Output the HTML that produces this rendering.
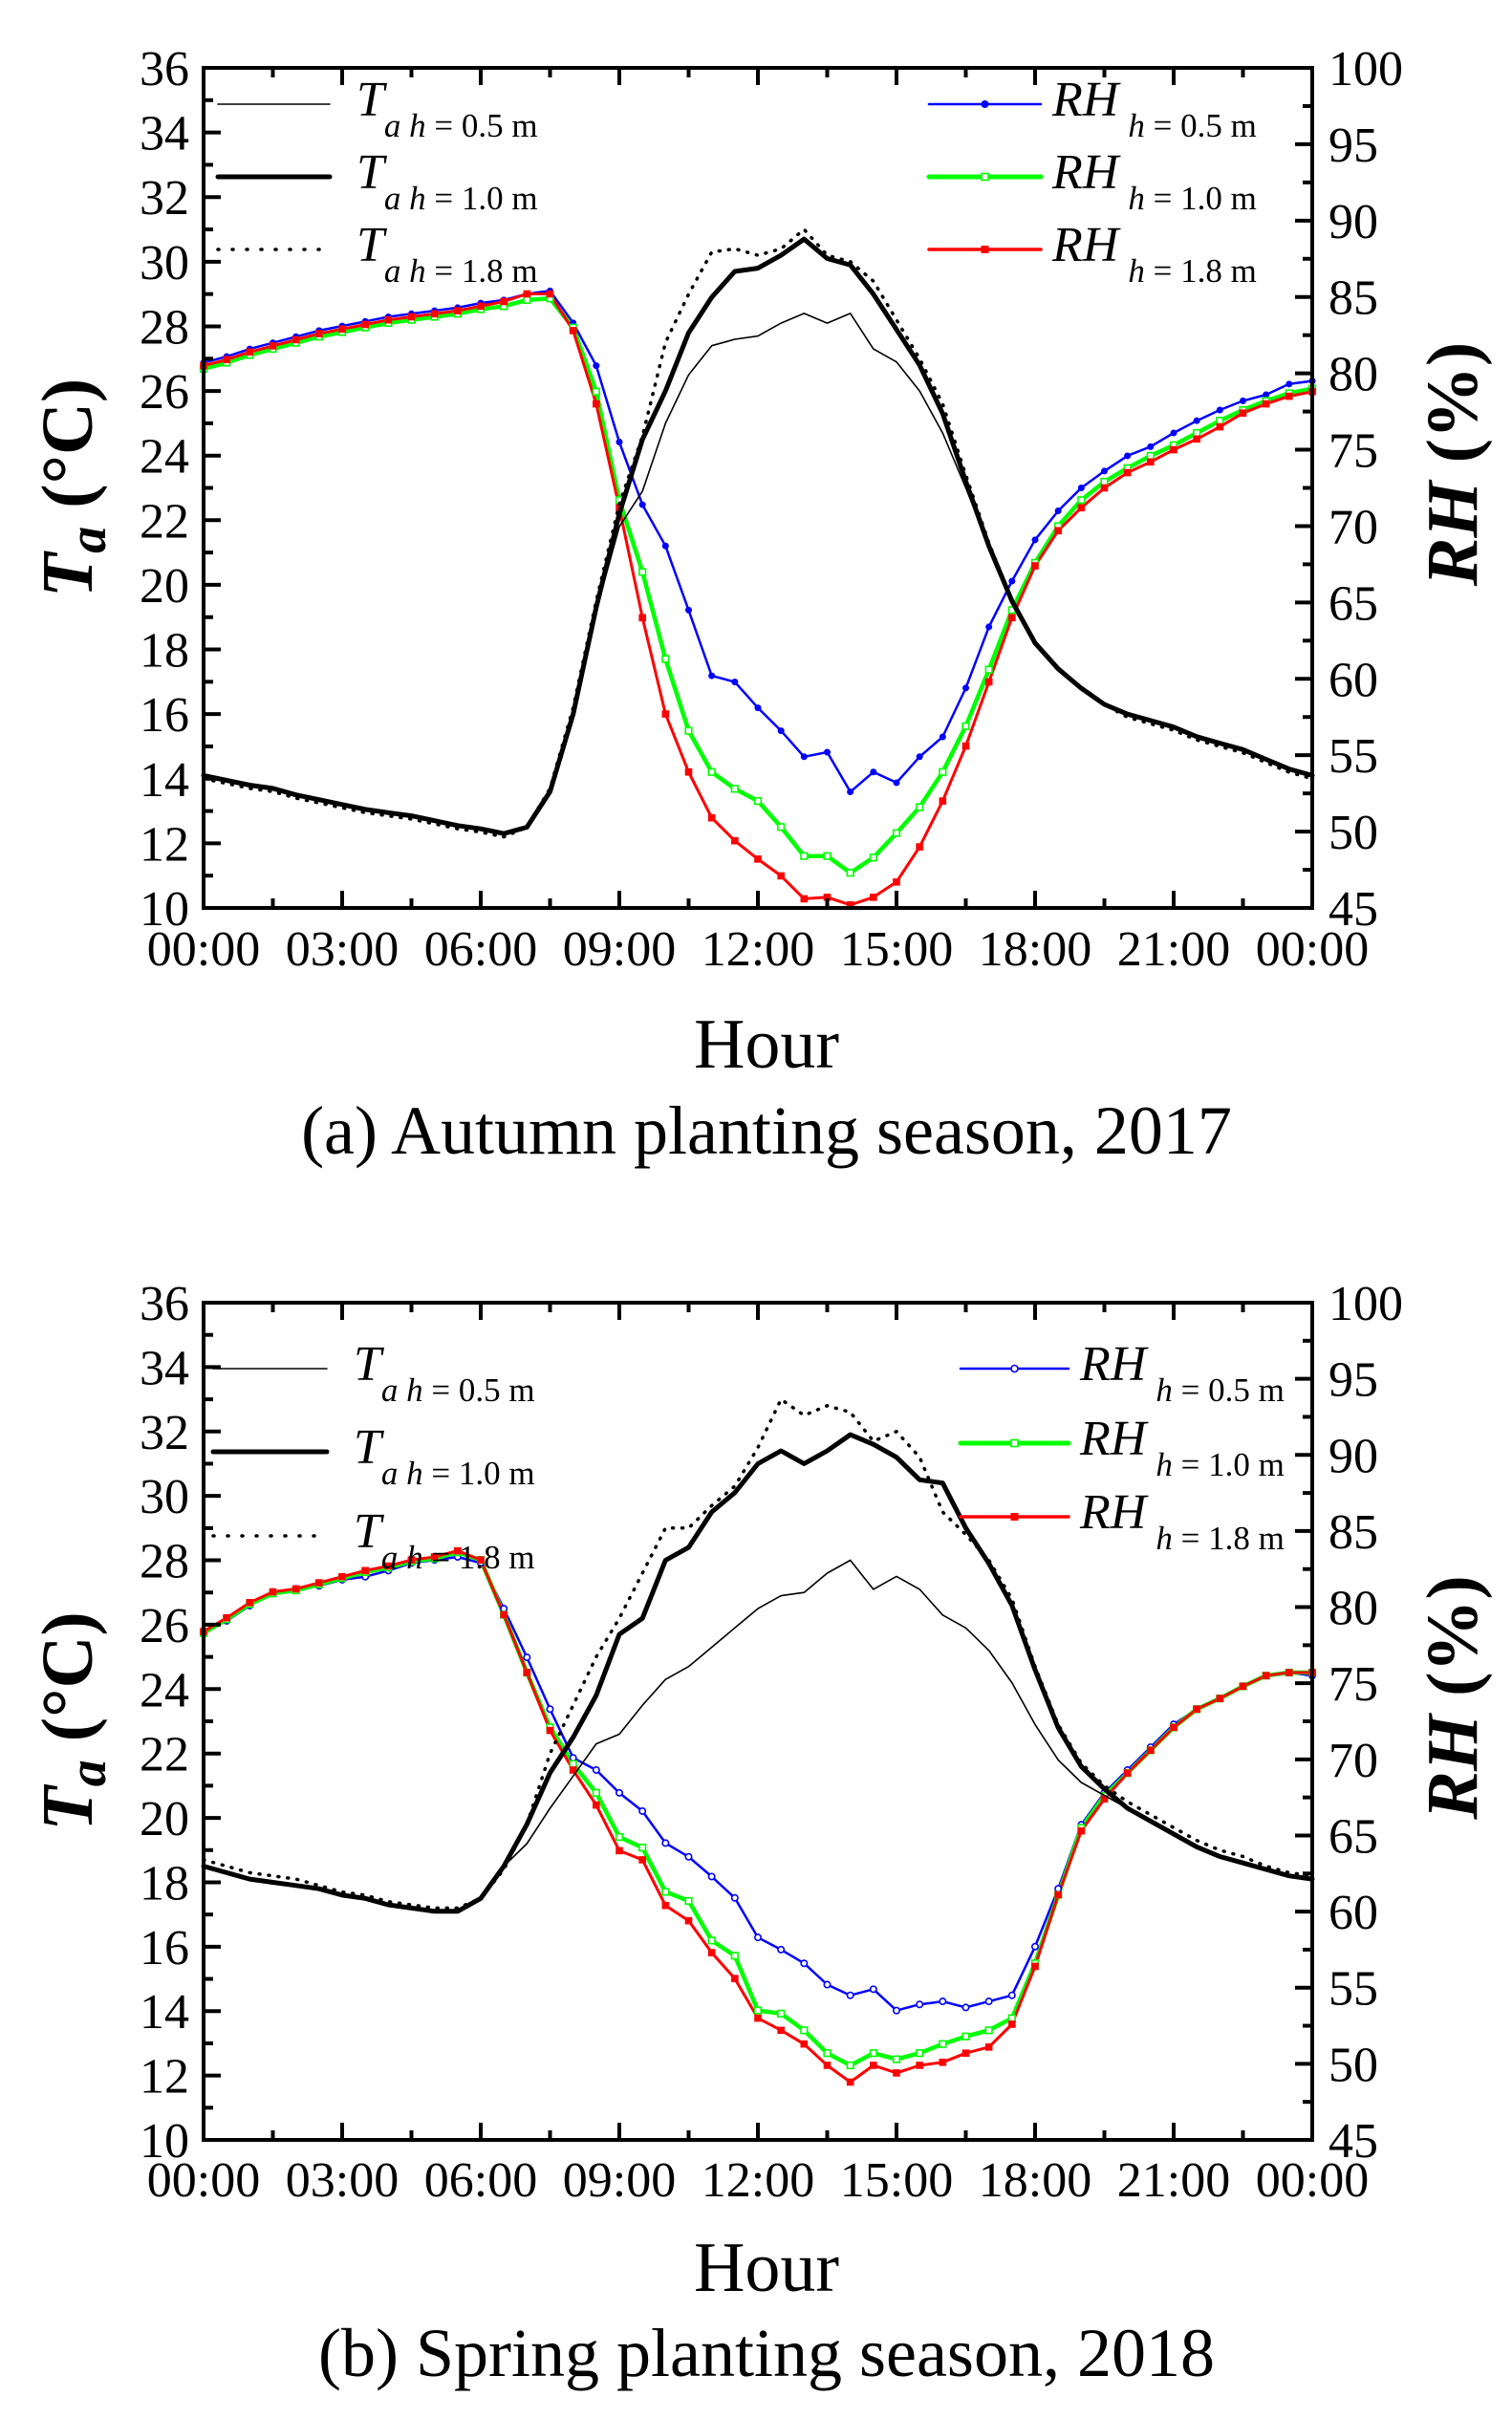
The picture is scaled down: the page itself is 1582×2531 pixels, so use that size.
<!DOCTYPE html>
<html><head><meta charset="utf-8"><style>
html,body{margin:0;padding:0;background:#fff}
svg{display:block;font-family:"Liberation Serif",serif}
</style></head><body>
<svg id="chart" width="1582" height="2531" viewBox="0 0 1582 2531" xmlns="http://www.w3.org/2000/svg"></svg>
<script>
const hours = [];
for (let i = 0; i <= 48; i++) hours.push(i * 0.5);
const xTickLabels = ["00:00","03:00","06:00","09:00","12:00","15:00","18:00","21:00","00:00"];
const tTicks = [10,12,14,16,18,20,22,24,26,28,30,32,34,36];
const rhTicks = [45,50,55,60,65,70,75,80,85,90,95,100];

// Panel (a) Autumn 2017
const aT05 = [14.1,13.95,13.8,13.7,13.5,13.35,13.2,13.05,12.95,12.85,12.7,12.55,12.45,12.3,12.5,13.6,16.0,19.2,21.8,22.9,25.0,26.5,27.4,27.6,27.7,28.1,28.4,28.1,28.4,27.3,26.9,26.0,24.7,23.0,21.2,19.5,18.2,17.4,16.8,16.3,16.0,15.8,15.6,15.3,15.1,14.9,14.6,14.3,14.1];
const aT10 = [14.1,13.95,13.8,13.7,13.5,13.35,13.2,13.05,12.95,12.85,12.7,12.55,12.45,12.3,12.5,13.6,16.0,19.3,22.2,24.5,26.0,27.8,28.9,29.7,29.8,30.2,30.7,30.1,29.9,29.0,27.9,26.8,25.3,23.2,21.2,19.5,18.2,17.4,16.8,16.3,16.0,15.8,15.6,15.3,15.1,14.9,14.6,14.3,14.1];
const aT18 = [14.0,13.85,13.7,13.6,13.4,13.25,13.1,12.95,12.85,12.75,12.6,12.45,12.35,12.2,12.5,13.7,16.2,19.5,22.5,24.6,27.5,29.0,30.3,30.4,30.2,30.4,31.0,30.2,30.0,29.4,28.2,27.0,25.6,23.4,21.3,19.5,18.2,17.4,16.8,16.3,15.9,15.7,15.5,15.2,15.0,14.8,14.5,14.2,14.0];
const aRH05 = [80.7,81.1,81.6,82.0,82.4,82.8,83.1,83.4,83.7,83.9,84.1,84.3,84.6,84.8,85.2,85.4,83.3,80.5,75.5,71.4,68.7,64.5,60.2,59.8,58.1,56.6,54.9,55.2,52.6,53.9,53.2,54.9,56.2,59.4,63.4,66.4,69.1,71.0,72.5,73.6,74.6,75.2,76.1,76.9,77.6,78.2,78.6,79.3,79.5];
const aRH10 = [80.3,80.7,81.2,81.6,82.0,82.4,82.7,83.0,83.3,83.5,83.7,83.9,84.2,84.4,84.8,84.9,83.0,78.8,71.7,67.0,61.3,56.6,53.9,52.8,52.0,50.3,48.4,48.4,47.3,48.3,49.9,51.6,53.9,56.9,60.6,64.5,67.6,70.0,71.7,72.9,73.8,74.6,75.3,76.1,76.9,77.6,78.2,78.7,79.0];
const aRH18 = [80.5,80.9,81.4,81.8,82.2,82.6,82.9,83.2,83.5,83.7,83.9,84.1,84.4,84.7,85.2,85.2,82.8,78.0,71.2,64.0,57.7,53.9,50.9,49.4,48.2,47.1,45.6,45.7,45.2,45.7,46.7,49.0,52.0,55.6,59.8,64.0,67.4,69.7,71.2,72.5,73.5,74.2,75.0,75.7,76.5,77.4,78.0,78.5,78.8];

// Panel (b) Spring 2018
const bT05 = [18.5,18.3,18.1,18.0,17.9,17.8,17.6,17.5,17.3,17.2,17.1,17.1,17.5,18.5,19.2,20.3,21.3,22.3,22.6,23.5,24.3,24.7,25.3,25.9,26.5,26.9,27.0,27.6,28.0,27.1,27.5,27.1,26.3,25.9,25.2,24.2,22.9,21.8,21.1,20.7,20.3,19.9,19.5,19.1,18.8,18.6,18.4,18.2,18.1];
const bT10 = [18.5,18.3,18.1,18.0,17.9,17.8,17.6,17.5,17.3,17.2,17.1,17.1,17.5,18.5,19.8,21.4,22.5,23.8,25.7,26.2,28.0,28.4,29.5,30.1,31.0,31.4,31.0,31.4,31.9,31.6,31.2,30.5,30.4,29.0,27.9,26.6,24.6,22.8,21.6,20.9,20.3,19.9,19.5,19.1,18.8,18.6,18.4,18.2,18.1];
const bT18 = [18.7,18.5,18.3,18.2,18.1,17.9,17.7,17.6,17.4,17.3,17.2,17.2,17.5,18.4,19.8,22.0,23.5,25.0,26.2,27.6,29.0,29.0,29.7,30.3,31.5,33.0,32.5,32.8,32.6,31.7,32.0,31.2,29.5,28.8,28.0,26.8,24.7,22.9,21.7,21.0,20.5,20.1,19.7,19.3,19.0,18.8,18.5,18.3,18.2];
const bRH05 = [78.4,79.1,80.1,81.0,81.2,81.4,81.8,82.0,82.4,82.9,83.1,83.3,82.9,79.9,76.7,73.3,70.1,69.3,67.8,66.6,64.5,63.6,62.3,60.9,58.3,57.5,56.6,55.2,54.5,54.9,53.5,53.9,54.1,53.7,54.1,54.5,57.7,61.5,65.7,67.8,69.3,70.8,72.3,73.3,74.0,74.8,75.5,75.7,75.5];
const bRH10 = [78.3,79.2,80.2,80.9,81.1,81.5,81.9,82.3,82.6,83.0,83.2,83.6,83.1,79.5,75.7,72.1,69.7,67.8,64.9,64.2,61.3,60.7,58.1,57.1,53.5,53.3,52.2,50.7,49.9,50.7,50.3,50.7,51.3,51.8,52.2,53.0,56.6,61.1,65.5,67.6,69.1,70.6,72.1,73.3,74.0,74.8,75.5,75.7,75.7];
const bRH18 = [78.4,79.3,80.3,81.0,81.2,81.6,82.0,82.4,82.7,83.1,83.3,83.7,83.1,79.5,75.7,71.9,69.3,67.0,64.0,63.4,60.4,59.4,57.3,55.6,53.0,52.2,51.3,49.9,48.8,49.9,49.4,49.9,50.1,50.7,51.1,52.6,56.4,61.1,65.3,67.4,69.1,70.6,72.1,73.3,74.0,74.8,75.5,75.7,75.7];

const NS = "http://www.w3.org/2000/svg";
const svg = document.getElementById("chart");
function mk(tag, attrs, parent) {
  const e = document.createElementNS(NS, tag);
  for (const k in attrs) e.setAttribute(k, attrs[k]);
  (parent || svg).appendChild(e);
  return e;
}

function panel(cfg) {
  const L = 213, R = 1373, T = cfg.top, B = cfg.bottom;
  const g = mk("g", {});
  
  
  const xs = h => L + (R - L) * h / 24;
  const yT = v => B - (B - T) * (v - 10) / 26;
  const yR = v => B - (B - T) * (v - 45) / 55;

  function line(vals, yf, w, color, dash, name) {
    const d = vals.map((v, i) => (i ? "L" : "M") + xs(hours[i]).toFixed(1) + "," + yf(v).toFixed(1)).join("");
    const p = mk("path", {d: d, fill: "none", stroke: color, "stroke-width": w, "stroke-linejoin": "round", "stroke-linecap": "round"}, g);
    if (dash) p.setAttribute("stroke-dasharray", dash);
    
    
  }
  function markers(vals, yf, color, type, name) {
    const mg = mk("g", {}, g);
    
    
    vals.forEach((v, i) => {
      const x = xs(hours[i]), y = yf(v);
      let m;
      if (type === "circle") m = mk("circle", {cx: x, cy: y, r: 3.5, fill: color}, mg);
      else if (type === "ocircle") m = mk("circle", {cx: x, cy: y, r: 3.2, fill: "#fff", stroke: color, "stroke-width": 1.6}, mg);
      else if (type === "square") m = mk("rect", {x: x - 3.8, y: y - 3.8, width: 7.6, height: 7.6, fill: color}, mg);
      else m = mk("rect", {x: x - 3.3, y: y - 3.3, width: 6.6, height: 6.6, fill: "#fff", stroke: color, "stroke-width": 1.6}, mg);
      
    });
  }
  line(cfg.rh05, yR, 2.5, "#0000ff", null, "rh-0.5m-line");
  line(cfg.rh10, yR, 4.5, "#00ff00", null, "rh-1.0m-line");
  line(cfg.rh18, yR, 3, "#ff0000", null, "rh-1.8m-line");
  markers(cfg.rh05, yR, "#0000ff", cfg.blueType, "rh-0.5m-markers");
  markers(cfg.rh10, yR, "#00ff00", "osquare", "rh-1.0m-markers");
  markers(cfg.rh18, yR, "#ff0000", "square", "rh-1.8m-markers");
  line(cfg.t18, yT, 3.5, "#000", "1,9", "ta-1.8m-line");
  line(cfg.t10, yT, 5, "#000", null, "ta-1.0m-line");
  line(cfg.t05, yT, 1.6, "#000", null, "ta-0.5m-line");

  const box = mk("rect", {x: L, y: T, width: R - L, height: B - T, fill: "none", stroke: "#000", "stroke-width": 4}, g);
  
  
  for (let i = 0; i <= 16; i++) {
    const x = L + (R - L) * i / 16, len = i % 2 ? 10 : 18;
    mk("line", {x1: x, y1: B, x2: x, y2: B - len, stroke: "#000", "stroke-width": 4}, g);
    mk("line", {x1: x, y1: T, x2: x, y2: T + len, stroke: "#000", "stroke-width": 4}, g);
  }
  xTickLabels.forEach((s, i) => {
    const t = mk("text", {x: L + (R - L) * i / 8, y: cfg.xlab, "font-size": 52, "text-anchor": "middle"}, g);
    t.textContent = s;
    
    
  });
  for (let v = 10; v <= 36; v++) {
    const y = yT(v), len = v % 2 ? 10 : 18;
    mk("line", {x1: L, y1: y, x2: L + len, y2: y, stroke: "#000", "stroke-width": 4}, g);
  }
  tTicks.forEach(v => {
    const t = mk("text", {x: 198, y: yT(v) + 18, "font-size": 52, "text-anchor": "end"}, g);
    t.textContent = v;
    
    
  });
  for (let v = 45; v <= 100; v += 2.5) {
    const y = yR(v), len = (v % 5) ? 10 : 18;
    mk("line", {x1: R, y1: y, x2: R - len, y2: y, stroke: "#000", "stroke-width": 4}, g);
  }
  rhTicks.forEach(v => {
    const t = mk("text", {x: 1390, y: yR(v) + 18, "font-size": 52}, g);
    t.textContent = v;
    
    
  });
  const cy = (T + B) / 2;
  const lt = mk("text", {x: 0, y: 0, "font-size": 76, "font-weight": "bold", "text-anchor": "middle", transform: `translate(96,${cy}) rotate(-90)`}, g);
  lt.innerHTML = '<tspan font-style="italic">T</tspan><tspan font-style="italic" font-size="56" dy="14">a</tspan><tspan dy="-14"> (°C)</tspan>';
  
  
  const rt = mk("text", {x: 0, y: 0, "font-size": 76, "font-weight": "bold", "text-anchor": "middle", transform: `translate(1545,${cy - 25}) rotate(-90)`}, g);
  rt.innerHTML = '<tspan font-style="italic">RH</tspan> (%)';
  
  
  const xt = mk("text", {x: 802, y: cfg.hourY, "font-size": 74, "text-anchor": "middle"}, g);
  xt.textContent = "Hour";
  
  
  const cap = mk("text", {x: 802, y: cfg.capY, "font-size": 72, "text-anchor": "middle"}, g);
  cap.textContent = cfg.caption;
  
  

  const hs = ["0.5", "1.0", "1.8"];
  const tW = [1.6, 5, 3.5], tDash = [null, null, "1,14"];
  cfg.legY.forEach((y, i) => {
    const lg = mk("g", {}, g);
    
    
    const ln = mk("line", {x1: cfg.lx1, y1: y, x2: cfg.lx2, y2: y, stroke: "#000", "stroke-width": tW[i], "stroke-linecap": "round"}, lg);
    if (tDash[i]) ln.setAttribute("stroke-dasharray", tDash[i]);
    const t = mk("text", {x: cfg.lx2 + 28, y: y + 12, "font-size": 52}, lg);
    t.innerHTML = `<tspan font-style="italic">T</tspan><tspan font-size="35" dy="22"><tspan font-style="italic">a h</tspan> = ${hs[i]} m</tspan>`;
  });
  const cols = ["#0000ff", "#00ff00", "#ff0000"], rw = [2.5, 5, 3.5];
  const mt = [cfg.blueType, "osquare", "square"];
  cfg.rlegY.forEach((y, i) => {
    const lg = mk("g", {}, g);
    
    
    mk("line", {x1: cfg.rx1, y1: y, x2: cfg.rx2, y2: y, stroke: cols[i], "stroke-width": rw[i], "stroke-linecap": "round"}, lg);
    const mx = (cfg.rx1 + cfg.rx2) / 2;
    if (mt[i] === "circle") mk("circle", {cx: mx, cy: y, r: 4, fill: cols[i]}, lg);
    else if (mt[i] === "ocircle") mk("circle", {cx: mx, cy: y, r: 3.5, fill: "#fff", stroke: cols[i], "stroke-width": 1.6}, lg);
    else if (mt[i] === "square") mk("rect", {x: mx - 4, y: y - 4, width: 8, height: 8, fill: cols[i]}, lg);
    else mk("rect", {x: mx - 3.5, y: y - 3.5, width: 7, height: 7, fill: "#fff", stroke: cols[i], "stroke-width": 1.6}, lg);
    const t = mk("text", {x: cfg.rx2 + 12, y: y + 12, "font-size": 52}, lg);
    t.innerHTML = `<tspan font-style="italic">RH</tspan><tspan font-size="35" dy="22" dx="10"><tspan font-style="italic">h</tspan> = ${hs[i]} m</tspan>`;
  });
}

panel({name: "panel-a-autumn-2017", top: 71, bottom: 950, xlab: 1010, hourY: 1117, capY: 1207,
  caption: "(a) Autumn planting season, 2017",
  t05: aT05, t10: aT10, t18: aT18, rh05: aRH05, rh10: aRH10, rh18: aRH18, blueType: "circle",
  legY: [109, 185, 261], lx1: 228, lx2: 345, rlegY: [109, 185, 261], rx1: 972, rx2: 1089});
panel({name: "panel-b-spring-2018", top: 1363, bottom: 2239, xlab: 2298, hourY: 2397, capY: 2486,
  caption: "(b) Spring planting season, 2018",
  t05: bT05, t10: bT10, t18: bT18, rh05: bRH05, rh10: bRH10, rh18: bRH18, blueType: "ocircle",
  legY: [1432, 1519, 1607], lx1: 223, lx2: 342, rlegY: [1432, 1510, 1587], rx1: 1005, rx2: 1118});
</script>
</body></html>
